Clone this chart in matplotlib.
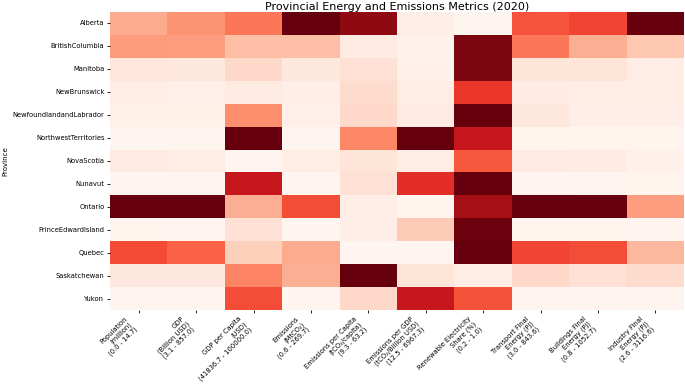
import matplotlib
matplotlib.use("Agg")
import matplotlib.pyplot as plt
import numpy as np
import pandas as pd
import seaborn as sns

# ---------------------------------------------------------------------------
# Data (raw metric values per province)
# ---------------------------------------------------------------------------
provinces = [
    "Alberta", "BritishColumbia", "Manitoba", "NewBrunswick",
    "NewfoundlandandLabrador", "NorthwestTerritories", "NovaScotia",
    "Nunavut", "Ontario", "PrinceEdwardIsland", "Quebec",
    "Saskatchewan", "Yukon",
]

metric_labels = [
    "Population\n(million)\n(0.0 - 14.7)",
    "GDP\n(Billion USD)\n(3.1 - 857.0)",
    "GDP per Capita\n(USD)\n(41836.7 - 100000.0)",
    "Emissions\n(MtCO\u2082)\n(0.6 - 269.7)",
    "Emissions per Capita\n(tCO\u2082/capita)\n(9.3 - 63.2)",
    "Emissions per GDP\n(tCO\u2082/Billion USD)\n(12.5 - 6967.3)",
    "Renewable Electricity\nShare (%)\n(0.2 - 1.0)",
    "Transport Final\nEnergy (PJ)\n(3.0 - 843.6)",
    "Buildings Final\nEnergy (PJ)\n(0.8 - 1052.7)",
    "Industry Final\nEnergy (PJ)\n(2.6 - 3116.6)",
]

population = [4.4, 5.1, 1.4, 0.8, 0.5, 0.05, 1.0, 0.04, 14.7, 0.16, 8.6, 1.2, 0.04]
gdp = [320.0, 295.0, 70.0, 36.0, 30.0, 4.0, 45.0, 3.1, 857.0, 6.0, 447.0, 72.0, 3.2]
gdp_per_capita = [68600.0, 55800.0, 50600.0, 45300.0, 64500.0, 100000.0, 41836.7,
                  86000.0, 58700.0, 48800.0, 52300.0, 66300.0, 75600.0]
emissions = [269.7, 65.0, 22.0, 12.0, 11.0, 1.4, 16.0, 0.6, 156.7, 1.6, 81.0, 79.0, 0.7]
emissions_per_capita = [58.9, 12.5, 15.8, 16.8, 17.4, 31.4, 14.7, 15.8, 11.5, 11.5,
                        9.3, 63.2, 17.4]
emissions_per_gdp = [300.0, 150.0, 220.0, 420.0, 480.0, 6967.3, 350.0, 4670.0,
                     80.0, 1400.0, 12.5, 700.0, 5300.0]
renewable_share = [0.2, 0.96, 0.96, 0.71, 1.0, 0.81, 0.64, 1.0, 0.90, 0.99, 1.0,
                   0.24, 0.65]
transport_energy = [475.0, 390.0, 87.0, 53.0, 70.0, 11.0, 62.0, 7.0, 843.6, 10.0,
                    507.0, 129.0, 3.0]
buildings_energy = [632.0, 306.0, 106.0, 53.0, 43.0, 11.0, 64.0, 0.8, 1052.7, 11.0,
                    611.0, 127.0, 6.0]
industry_energy = [3116.6, 657.0, 158.0, 158.0, 127.0, 34.0, 96.0, 30.0, 1062.0,
                   20.0, 813.0, 438.0, 2.6]

# ---------------------------------------------------------------------------
# Min-max normalise each metric so every column spans 0..1
# ---------------------------------------------------------------------------
raw = pd.DataFrame(
    np.column_stack([population, gdp, gdp_per_capita, emissions,
                     emissions_per_capita, emissions_per_gdp, renewable_share,
                     transport_energy, buildings_energy, industry_energy]),
    index=provinces, columns=metric_labels,
)
norm = (raw - raw.min()) / (raw.max() - raw.min())

# ---------------------------------------------------------------------------
# Plot
# ---------------------------------------------------------------------------
fig = plt.figure(figsize=(6.85, 3.84), dpi=100)
ax = fig.add_axes([110 / 685, 1 - 310 / 384, 574 / 685, 298 / 384])

sns.heatmap(norm, cmap="Reds", vmin=0, vmax=1, cbar=False, ax=ax)

ax.set_title("Provincial Energy and Emissions Metrics (2020)", fontsize=8, pad=1.5)
ax.set_ylabel("Province", fontsize=5.0, labelpad=3)
ax.set_xlabel("")
ax.set_xticklabels(metric_labels, rotation=45, ha="right", fontsize=4.9)
ax.set_yticklabels(provinces, rotation=0, fontsize=4.9)
ax.tick_params(length=2.5, width=0.6, pad=1.5)

fig.savefig("out.png", dpi=100)
